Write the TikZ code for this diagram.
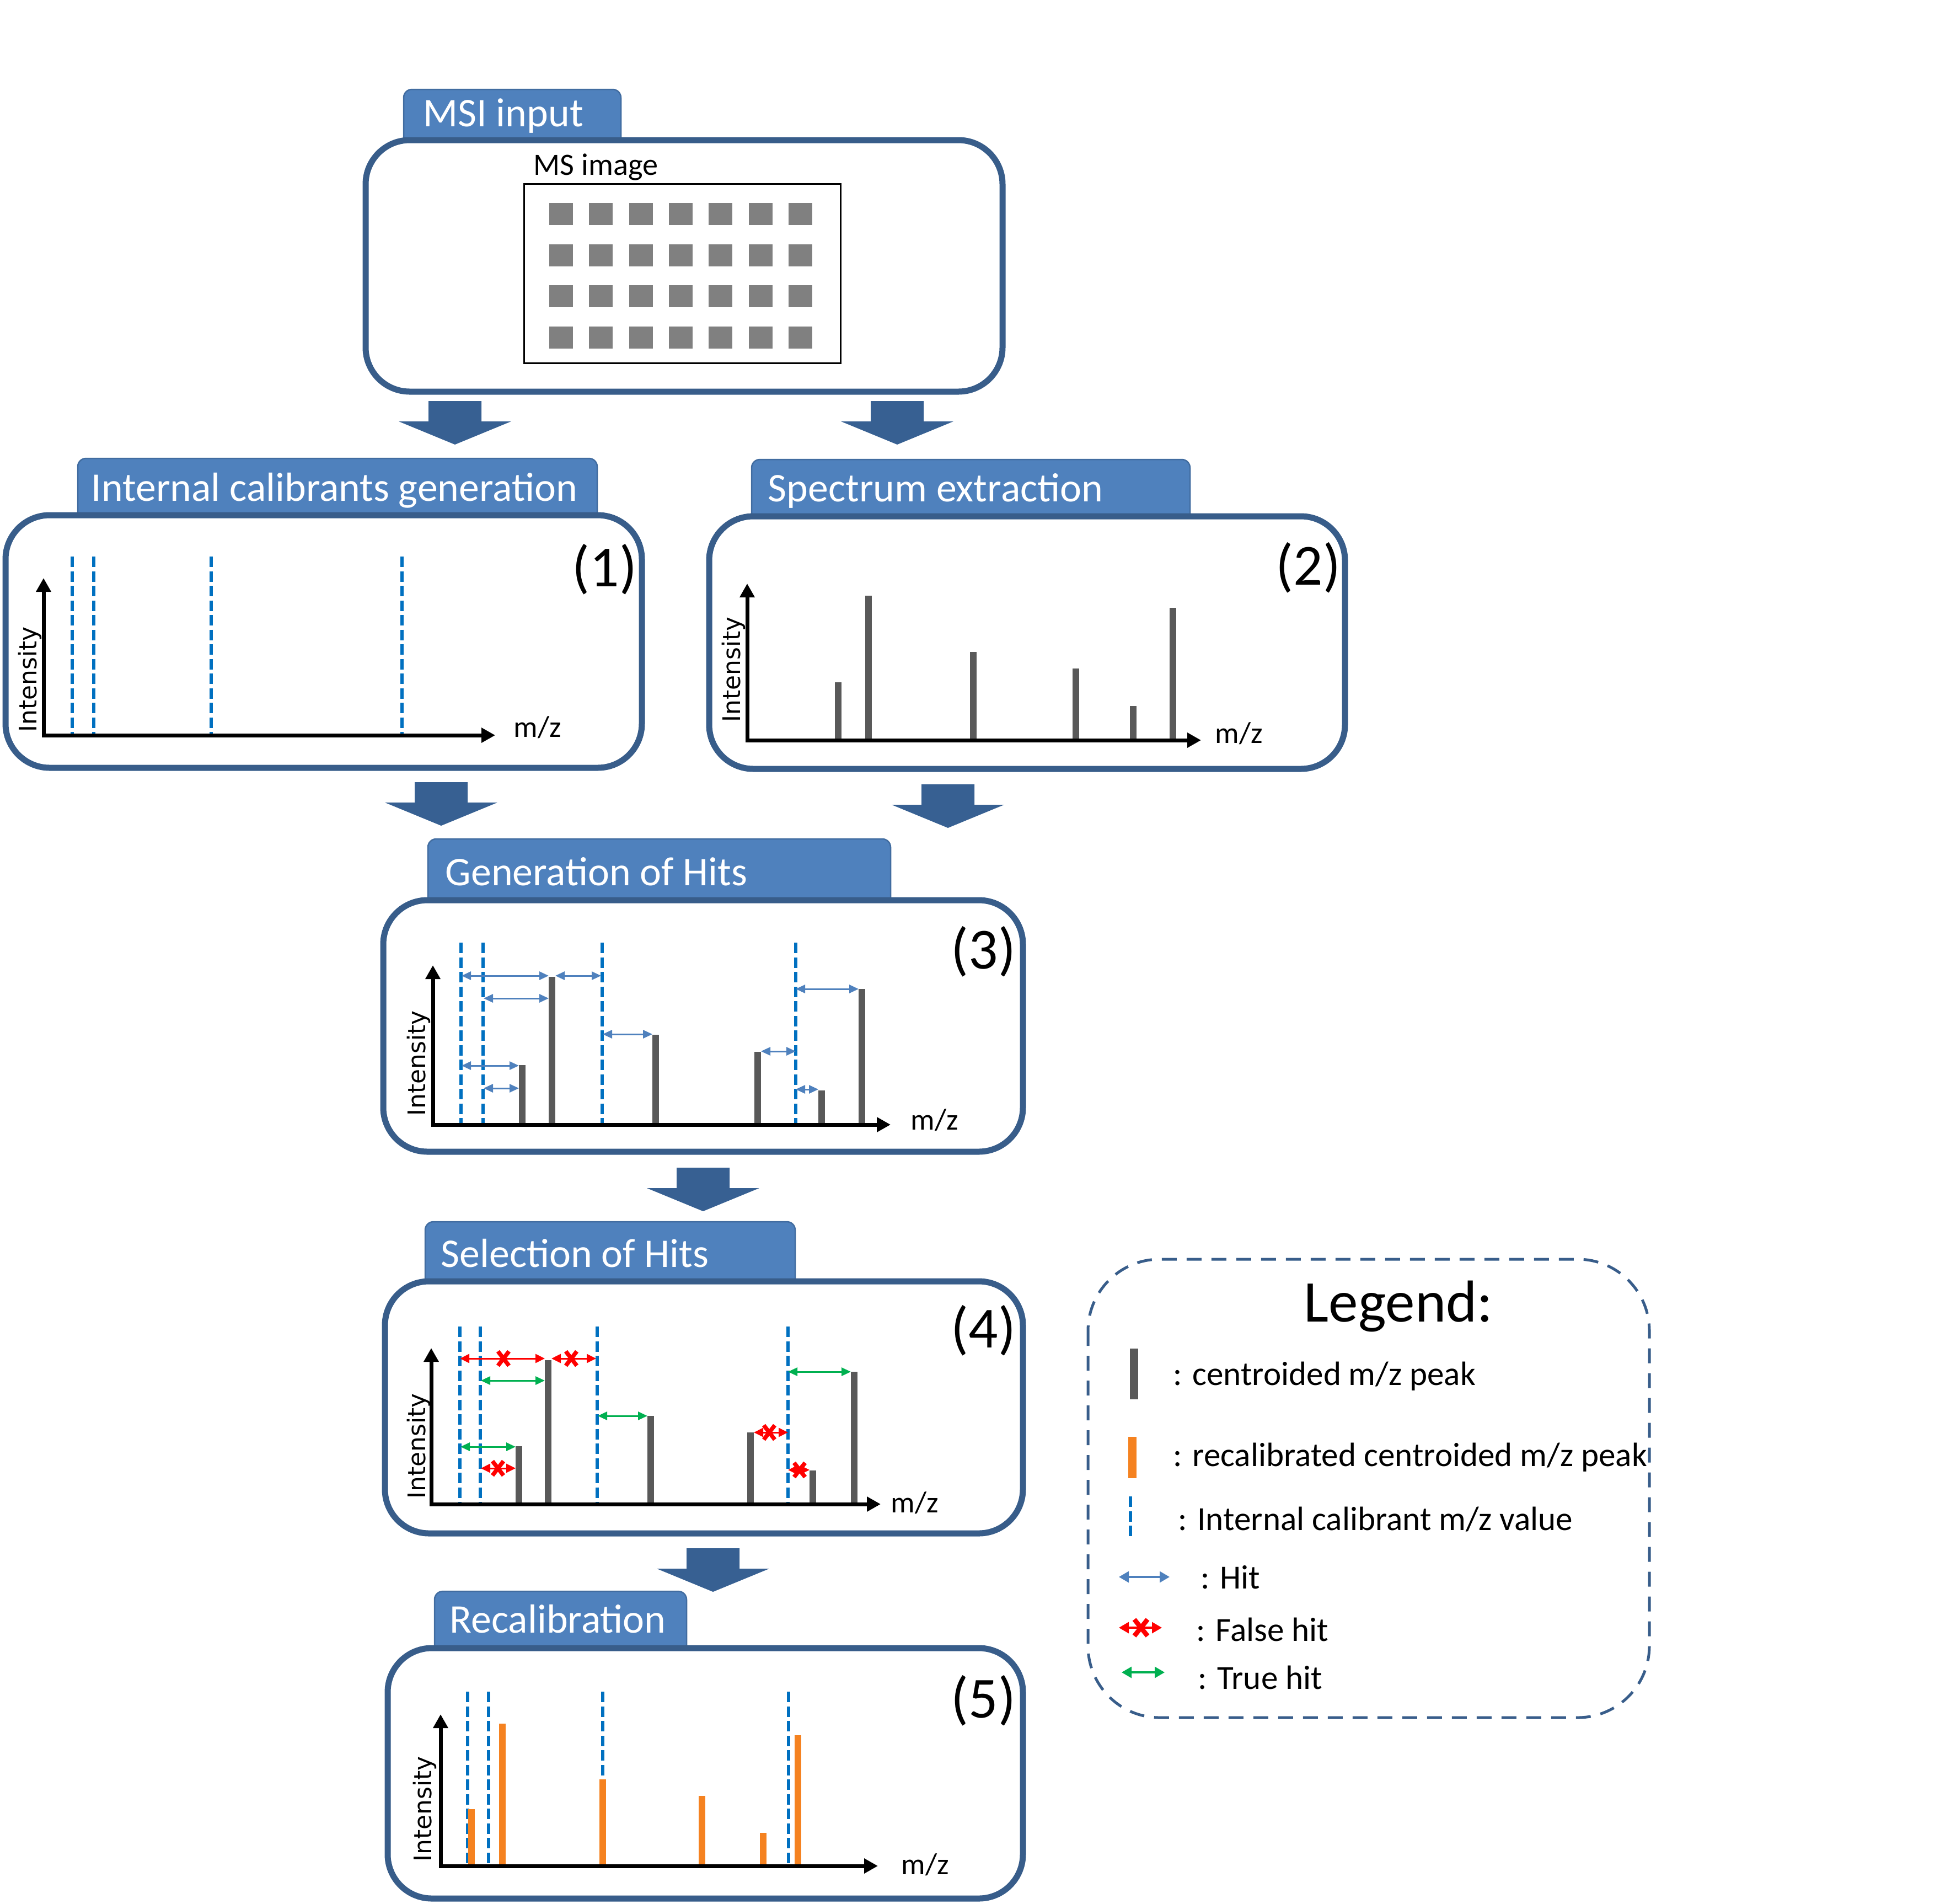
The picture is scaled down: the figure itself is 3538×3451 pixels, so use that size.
\documentclass[tikz,border=0pt]{standalone}
\usepackage{fontspec}
\setmainfont{Carlito}
\newfontfamily\intfont{DejaVu Sans}
\usetikzlibrary{arrows.meta}
\definecolor{boxblue}{RGB}{56,93,138}
\definecolor{tabblue}{RGB}{79,129,189}
\definecolor{tabedge}{RGB}{65,108,160}
\definecolor{flowblue}{RGB}{55,96,146}
\definecolor{calblue}{RGB}{0,112,192}
\definecolor{peakgray}{RGB}{89,89,89}
\definecolor{pixgray}{RGB}{128,128,128}
\definecolor{hitblue}{RGB}{79,129,189}
\definecolor{falsered}{RGB}{255,0,0}
\definecolor{truegreen}{RGB}{0,176,80}
\definecolor{recalor}{RGB}{245,130,32}
\newcommand{\flowarrow}[2]{\fill[flowblue] ({#1-48},#2) -- ({#1+48},#2) -- ({#1+48},{#2+37}) -- ({#1+102},{#2+37}) -- (#1,{#2+79}) -- ({#1-102},{#2+37}) -- ({#1-48},{#2+37}) -- cycle;}
\newcommand{\tabshape}[4]{\path[tab] (#1,#4) -- (#1,#3) -- (#2,#3) -- (#2,#4);}
\newcommand{\xmk}[2]{\draw[xmark] ({#1-10},{#2-13}) -- ({#1+10},{#2+13}) ({#1-10},{#2+13}) -- ({#1+10},{#2-13});}
\begin{document}
\begin{tikzpicture}[x=0.1mm,y=-0.1mm,
  panel/.style={draw=boxblue,line width=1.1mm,fill=white,rounded corners=8mm},
  tab/.style={draw=tabedge,fill=tabblue,line width=0.25mm,rounded corners=1.5mm},
  tabtext/.style={anchor=base west,inner sep=0,text=white,font=\fontsize{21}{25}\selectfont},
  numtext/.style={anchor=base east,inner sep=0,font=\fontsize{30}{36}\selectfont},
  mztext/.style={anchor=base west,inner sep=0,font=\fontsize{15.5}{18}\selectfont},
  inttext/.style={anchor=base west,inner sep=0,rotate=90,font=\intfont\fontsize{12.5}{15}\selectfont},
  legtext/.style={anchor=base west,inner sep=0,font=\fontsize{17.4}{20}\selectfont},
  axis/.style={line width=0.7mm,line cap=rect,-{Triangle[length=2.5mm,width=2.6mm]}},
  calib/.style={draw=calblue,line width=0.6mm,dash pattern=on 1.9mm off 0.75mm},
  peak/.style={draw=peakgray,line width=1.2mm},
  rpeak/.style={draw=recalor,line width=1.2mm},
  hitarr/.style={draw=hitblue,line width=0.3mm,{Triangle[length=1.7mm,width=1.5mm]}-{Triangle[length=1.7mm,width=1.5mm]}},
  falsearr/.style={draw=falsered,line width=0.3mm,{Triangle[length=1.7mm,width=1.6mm]}-{Triangle[length=1.7mm,width=1.6mm]}},
  truearr/.style={draw=truegreen,line width=0.3mm,{Triangle[length=1.7mm,width=1.5mm]}-{Triangle[length=1.7mm,width=1.5mm]}},
  xmark/.style={draw=falsered,line width=0.75mm}
]
\useasboundingbox (0,0) rectangle (3538,3451);

% ---------------- MSI input ----------------
\tabshape{732}{1126}{162}{254}
\draw[panel] (663,254) rectangle (1818,710);
\node[tabtext] (t0) at (767,229) {MSI input};
\node[anchor=base west,inner sep=0,font=\fontsize{16}{19}\selectfont] (msimg) at (967,317) {MS image};
\draw[line width=0.3mm] (950,333) rectangle (1524,658);
\foreach \i in {0,...,6} {
  \foreach \j in {0,...,3} {
    \fill[pixgray] ({996+72.3*\i},{368+74.7*\j}) rectangle ({1039+72.3*\i},{408+74.7*\j});
  }
}

% flow arrows
\flowarrow{825}{727}
\flowarrow{1627}{727}
\flowarrow{800}{1418}
\flowarrow{1719}{1422}
\flowarrow{1275}{2117}
\flowarrow{1293}{2807}

% ---------------- (1) ----------------
\tabshape{141}{1083}{831}{934}
\draw[panel] (10,934) rectangle (1164,1392);
\node[tabtext] (t1) at (165,908) {Internal calibrants generation};
\node[numtext] (n1) at (1156,1063) {(1)};
\foreach \x in {131,170,383,729} \draw[calib] (\x,1009) -- (\x,1333);
\draw[axis] (79,1333) -- (79,1048);
\draw[axis] (79,1333) -- (898,1333);
\node[mztext] (mz1) at (931,1336) {m/z};
\node[inttext] (i1) at (66,1328) {Intensity};

% ---------------- (2) ----------------
\tabshape{1363}{2158}{833}{936}
\draw[panel] (1286,936) rectangle (2439,1394);
\node[tabtext] (t2) at (1392,909) {Spectrum extraction};
\node[numtext] (n2) at (2432,1060) {(2)};
\foreach \x/\t in {1520/1237,1575/1080,1765/1182,1951/1212,2055/1280,2127/1102} \draw[peak] (\x,1342) -- (\x,\t);
\draw[axis] (1355,1342) -- (1355,1058);
\draw[axis] (1355,1342) -- (2178,1342);
\node[mztext] (mz2) at (2203,1347) {m/z};
\node[inttext] (i2) at (1342,1310) {Intensity};

% ---------------- (3) ----------------
\tabshape{776}{1615}{1521}{1632}
\draw[panel] (695,1632) rectangle (1855,2088);
\node[tabtext] (t3) at (807,1605) {Generation of Hits};
\node[numtext] (n3) at (1843,1756) {(3)};
\foreach \x in {836,876,1092,1443} \draw[calib] (\x,1709) -- (\x,2039);
\foreach \x/\t in {947/1931,1001/1771,1189/1876,1374/1907,1490/1977,1563/1793} \draw[peak] (\x,2039) -- (\x,\t);
\draw[axis] (785,2039) -- (785,1750);
\draw[axis] (785,2039) -- (1615,2039);
\node[mztext] (mz3) at (1651,2048) {m/z};
\node[inttext] (i3) at (771,2024) {Intensity};
\draw[hitarr] (837,1769) -- (995,1769);
\draw[hitarr] (1007,1769) -- (1090,1769);
\draw[hitarr] (877,1810) -- (995,1810);
\draw[hitarr] (1093,1875) -- (1183,1875);
\draw[hitarr] (837,1932) -- (941,1932);
\draw[hitarr] (877,1973) -- (941,1973);
\draw[hitarr] (1380,1906) -- (1443,1906);
\draw[hitarr] (1443,1793) -- (1557,1793);
\draw[hitarr] (1443,1975) -- (1484,1975);

% ---------------- (4) ----------------
\tabshape{771}{1442}{2215}{2323}
\draw[panel] (698,2323) rectangle (1855,2780);
\node[tabtext] (t4) at (799,2297) {Selection of Hits};
\node[numtext] (n4) at (1843,2443) {(4)};
\foreach \x in {834,871,1083,1429} \draw[calib] (\x,2405) -- (\x,2727);
\foreach \x/\t in {941/2622,994/2466,1180/2567,1361/2597,1474/2666,1549/2487} \draw[peak] (\x,2727) -- (\x,\t);
\draw[axis] (782,2727) -- (782,2444);
\draw[axis] (782,2727) -- (1597,2727);
\node[mztext] (mz4) at (1615,2742) {m/z};
\node[inttext] (i4) at (771,2718) {Intensity};
\draw[falsearr] (834,2463) -- (988,2463); \xmk{913}{2463}
\draw[falsearr] (1000,2463) -- (1081,2463); \xmk{1036}{2463}
\draw[truearr] (872,2503) -- (988,2503);
\draw[truearr] (1084,2567) -- (1174,2567);
\draw[truearr] (835,2623) -- (935,2623);
\draw[falsearr] (872,2662) -- (935,2662); \xmk{903}{2662}
\draw[falsearr] (1367,2597) -- (1429,2597); \xmk{1395}{2597}
\draw[falsearr] (1429,2665) -- (1468,2665); \xmk{1450}{2665}
\draw[truearr] (1429,2487) -- (1543,2487);

% ---------------- (5) ----------------
\tabshape{788}{1245}{2885}{2988}
\draw[panel] (703,2988) rectangle (1855,3442);
\node[tabtext] (t5) at (815,2960) {Recalibration};
\node[numtext] (n5) at (1843,3114) {(5)};
\foreach \x in {848,886,1093,1430} \draw[calib] (\x,3067) -- (\x,3383);
\foreach \x/\t in {855/3280,911/3125,1093/3226,1273/3256,1384/3323,1447/3146} \draw[rpeak] (\x,3383) -- (\x,\t);
\draw[axis] (799,3383) -- (799,3108);
\draw[axis] (799,3383) -- (1592,3383);
\node[mztext] (mz5) at (1634,3398) {m/z};
\node[inttext] (i5) at (782,3376) {Intensity};

% ---------------- Legend ----------------
\draw[draw=boxblue,line width=0.5mm,dash pattern=on 2.7mm off 1.8mm,rounded corners=13mm] (1973,2283) rectangle (2991,3114);
\node[anchor=base west,inner sep=0,font=\fontsize{30.5}{36}\selectfont] (lg) at (2364,2396) {Legend:};
\draw[peakgray,line width=1.5mm] (2056,2445) -- (2056,2537);
\node[legtext] (l1) at (2127,2511) {: centroided m/z peak};
\draw[recalor,line width=1.5mm] (2053,2605) -- (2053,2680);
\node[legtext] (l2) at (2127,2658) {: recalibrated centroided m/z peak};
\draw[calib] (2050,2713) -- (2050,2791);
\node[legtext] (l3) at (2136,2774) {: Internal calibrant m/z value};
\draw[hitarr,line width=0.35mm,{Triangle[length=1.8mm,width=2mm]}-{Triangle[length=1.8mm,width=2mm]}] (2029,2859) -- (2121,2859);
\node[legtext] (l4) at (2177,2880) {: Hit};
\draw[falsearr,line width=0.35mm,{Triangle[length=1.8mm,width=2mm]}-{Triangle[length=1.8mm,width=2mm]}] (2029,2951) -- (2107,2951);
\draw[xmark,line width=0.85mm] (2057,2936) -- (2081,2966) (2057,2966) -- (2081,2936);
\node[legtext] (l5) at (2169,2975) {: False hit};
\draw[truearr,line width=0.35mm,{Triangle[length=1.8mm,width=2mm]}-{Triangle[length=1.8mm,width=2mm]}] (2034,3032) -- (2112,3032);
\node[legtext] (l6) at (2172,3062) {: True hit};
\end{tikzpicture}
\end{document}
